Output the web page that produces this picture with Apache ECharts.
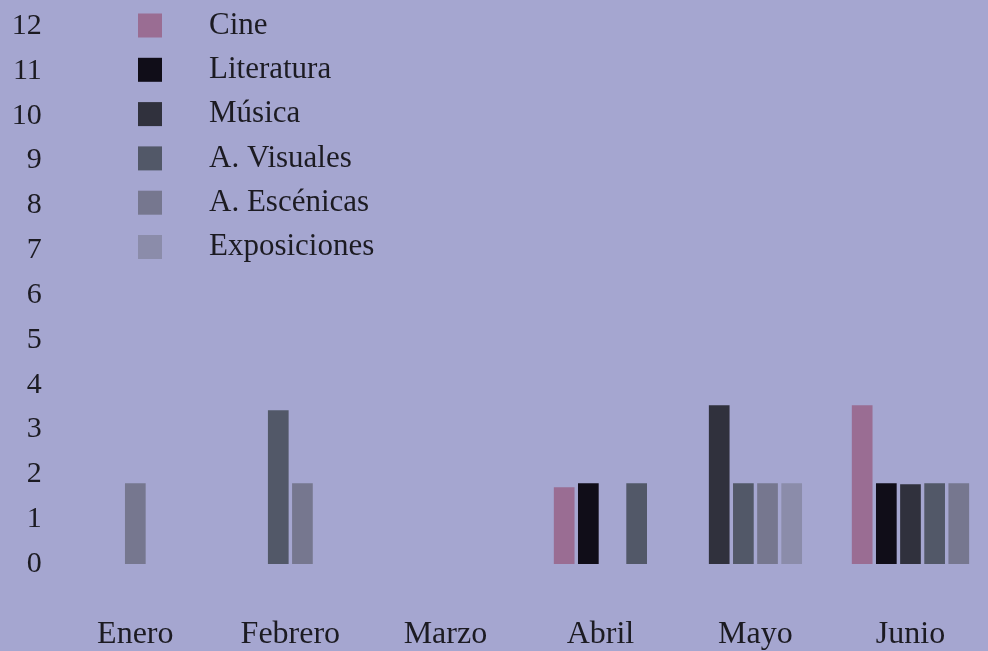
<!DOCTYPE html>
<html>
<head>
<meta charset="utf-8">
<script src="https://cdn.jsdelivr.net/npm/echarts@6/dist/echarts.min.js"></script>
<style>
html,body{margin:0;padding:0;background:#a5a6d0;}
#chart{width:988px;height:651px;}
</style>
</head>
<body>
<div id="chart"></div>
<script>
var months = ['Enero', 'Febrero', 'Marzo', 'Abril', 'Mayo', 'Junio'];
var seriesNames = ['Cine', 'Literatura', 'Música', 'A. Visuales', 'A. Escénicas', 'Exposiciones'];
var cine         = [null, null, null, 1.71, null, 3.54];
var literatura   = [null, null, null, 1.8,  null, 1.8];
var musica       = [null, null, null, 0,    3.54, 1.78];
var visuales     = [null, 3.43, null, 1.8,  1.8,  1.8];
var escenicas    = [1.8,  1.8,  null, null, 1.8,  1.8];
var exposiciones = [null, null, null, null, 1.8,  null];
var yTicks = [0, 1, 2, 3, 4, 5, 6, 7, 8, 9, 10, 11, 12];
var colors = ['#9a6d93', '#100d18', '#30313d', '#525868', '#76778f', '#8b8caa'];

var allValues = [cine, literatura, musica, visuales, escenicas, exposiciones];
var FONT = 'Liberation Serif';
var TEXT = '#1c1b22';
var PITCH = 0.1558;   // slot pitch as fraction of category band
var BARW = 0.1335;    // bar width as fraction of category band

function presentSeries(cat) {
  var list = [];
  for (var s = 0; s < allValues.length; s++) {
    if (allValues[s][cat] !== null && allValues[s][cat] !== undefined) list.push(s);
  }
  return list;
}

function makeRender(sIdx) {
  return function (params, api) {
    var cat = api.value(0);
    var val = api.value(1);
    var present = presentSeries(cat);
    var k = present.indexOf(sIdx);
    var n = present.length;
    var band = api.size([1, 0])[0];
    var base = api.coord([cat, 0]);
    var top = api.coord([cat, val]);
    var cx = base[0] + (k - (n - 1) / 2) * PITCH * band;
    var w = BARW * band;
    return {
      type: 'rect',
      shape: { x: cx - w / 2, y: top[1], width: w, height: base[1] - top[1] },
      style: { fill: colors[sIdx] }
    };
  };
}

var series = seriesNames.map(function (name, s) {
  var data = [];
  allValues[s].forEach(function (v, i) { if (v !== null) data.push([i, v]); });
  return {
    name: name,
    type: 'custom',
    renderItem: makeRender(s),
    encode: { x: 0, y: 1 },
    itemStyle: { color: colors[s] },
    data: data,
    clip: false
  };
});

var chart = echarts.init(document.getElementById('chart'));
chart.setOption({
  backgroundColor: '#a5a6d0',
  animation: false,
  color: colors,
  legend: {
    orient: 'vertical',
    left: 133,
    top: 5,
    icon: 'rect',
    itemWidth: 24,
    itemHeight: 24,
    itemGap: 13.3,
    selectedMode: false,
    data: seriesNames,
    textStyle: { fontFamily: FONT, fontSize: 31, color: TEXT, lineHeight: 30, padding: [0, 0, 0, 42] }
  },
  grid: { left: 57.8, width: 943.8, top: 26, bottom: 84, containLabel: false },
  xAxis: {
    type: 'category',
    data: months,
    axisLine: { show: false },
    axisTick: { show: false },
    splitLine: { show: false },
    axisLabel: { fontFamily: FONT, fontSize: 32, color: TEXT, margin: 55 }
  },
  yAxis: {
    type: 'value',
    min: 0,
    max: 12,
    interval: 1,
    axisLine: { show: false },
    axisTick: { show: false },
    splitLine: { show: false },
    axisLabel: {
      fontFamily: FONT, fontSize: 30, color: TEXT, margin: 16,
      padding: [0, 0, 7, 0],
      formatter: function (v) { return yTicks.indexOf(v) >= 0 ? String(v) : ''; }
    }
  },
  series: series
});
</script>
</body>
</html>
